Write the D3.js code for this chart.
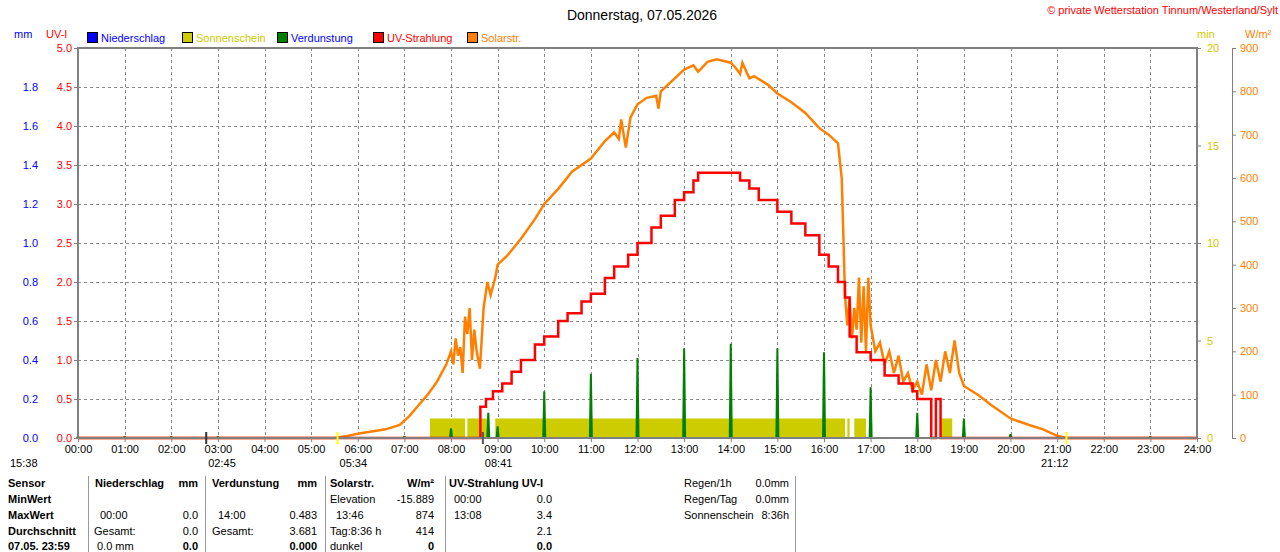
<!DOCTYPE html>
<html><head><meta charset="utf-8">
<script src="https://cdn.jsdelivr.net/npm/d3@7"></script>
<style>
body{margin:0;background:#fff;font-family:"Liberation Sans",Arial,sans-serif;}
svg text{font-size:11px;}
</style></head><body>
<svg id="chart" width="1280" height="552"></svg>
<script>
/* DATA */
const hourTicks = d3.range(0, 25);
const mmTicks = [0, 0.2, 0.4, 0.6, 0.8, 1.0, 1.2, 1.4, 1.6, 1.8];
const uvTicks = [0, 0.5, 1, 1.5, 2, 2.5, 3, 3.5, 4, 4.5, 5];
const minTicks = [0, 5, 10, 15, 20];
const wTicks = [0, 100, 200, 300, 400, 500, 600, 700, 800, 900];

// solar radiation [hour, W/m²]
const solar = [[0,0],[5.5,0],[5.8,5],[6,10],[6.3,15],[6.6,20],[6.9,30],[7.1,50],[7.3,75],[7.5,100],[7.7,130],
 [7.9,170],[8.0,200],[8.05,170],[8.1,230],[8.15,190],[8.2,210],[8.25,150],[8.3,280],[8.35,240],[8.4,300],[8.45,180],
 [8.5,250],[8.55,200],[8.62,160],[8.7,300],[8.78,360],[8.85,330],[8.95,370],[9.0,400],[9.2,420],[9.5,460],[9.8,505],
 [10.0,540],[10.3,575],[10.6,615],[11.0,645],[11.3,685],[11.5,705],[11.6,690],[11.65,735],[11.75,670],[11.85,740],
 [12.0,770],[12.2,785],[12.4,790],[12.45,760],[12.5,800],[12.8,830],[13.0,850],[13.2,860],[13.3,845],[13.5,868],
 [13.7,874],[14.0,866],[14.1,855],[14.2,840],[14.25,866],[14.4,830],[14.5,835],[14.8,815],[15.0,795],[15.3,775],
 [15.6,750],[15.9,715],[16.1,700],[16.3,680],[16.38,600],[16.42,450],[16.45,330],[16.5,260],[16.55,320],[16.6,230],
 [16.65,300],[16.7,250],[16.75,370],[16.8,220],[16.85,350],[16.9,200],[16.95,370],[17.0,260],[17.1,200],[17.2,220],
 [17.3,170],[17.4,200],[17.5,150],[17.6,190],[17.7,130],[17.8,150],[17.9,110],[18.0,130],[18.1,100],[18.2,170],
 [18.3,110],[18.4,180],[18.5,130],[18.6,200],[18.7,150],[18.8,225],[18.9,150],[19.0,120],[19.3,100],[19.6,75],
 [20.0,45],[20.4,30],[20.7,20],[21.0,5],[21.2,0],[24,0]];

// UV index steps [hour, UV-I]
const uv = [[0,0],[8.62,0],[8.63,0.4],[8.75,0.5],[8.9,0.6],[9.1,0.7],[9.3,0.85],[9.5,1.0],[9.8,1.2],[10.0,1.3],[10.3,1.5],
 [10.5,1.6],[10.8,1.75],[11.0,1.85],[11.3,2.05],[11.5,2.2],[11.8,2.35],[12.0,2.5],[12.3,2.7],[12.5,2.85],[12.8,3.05],
 [13.0,3.15],[13.2,3.3],[13.3,3.4],[14.0,3.4],[14.2,3.3],[14.4,3.2],[14.6,3.05],[15.0,2.9],[15.3,2.75],[15.6,2.6],
 [15.9,2.35],[16.1,2.2],[16.3,2.0],[16.45,1.8],[16.55,1.3],[16.7,1.1],[17.0,1.0],[17.3,0.8],[17.6,0.7],[17.9,0.6],
 [18.0,0.5],[18.2,0.5],[18.3,0],[18.4,0.5],[18.5,0],[24,0]];

// sunshine intervals [start, end] in hours
const sunshine = [[7.55,8.3],[8.35,8.8],[8.95,16.45],[16.5,16.55],[16.65,16.9],[18.5,18.75]];

// evaporation spikes [hour, mm]
const evap = [[0,0.01],[1,0.01],[2,0.01],[3,0.01],[7,0.01],[8,0.05],[8.8,0.13],[9,0.06],[10,0.24],[11,0.33],[12,0.41],
 [13,0.46],[14,0.483],[15,0.46],[16,0.44],[17,0.26],[18,0.13],[19,0.1],[20,0.02],[23,0.01]];

const markers = [[2.75,"02:45","#333"],[5.5667,"05:34","#ff0"],[8.6833,"08:41","#555"],[21.2,"21:12","#ff0"]];

/* SCALES */
const svg = d3.select("#chart");
const x0 = 78, x1 = 1197, yTop = 48, yBot = 438;
const x = d3.scaleLinear().domain([0, 24]).range([x0, x1]);
const yMm = d3.scaleLinear().domain([0, 2]).range([yBot, yTop]);
const yUv = d3.scaleLinear().domain([0, 5]).range([yBot, yTop]);
const yMin = d3.scaleLinear().domain([0, 20]).range([yBot, yTop]);
const yW = d3.scaleLinear().domain([0, 900]).range([yBot, yTop]);

/* GRID */
const grid = svg.append("g").attr("stroke", "#888").attr("stroke-dasharray", "3,3").attr("stroke-width", 1);
hourTicks.slice(1, 24).forEach(h => grid.append("line").attr("x1", Math.round(x(h)) + .5).attr("x2", Math.round(x(h)) + .5).attr("y1", yTop).attr("y2", yBot));
uvTicks.slice(1, 10).forEach(v => grid.append("line").attr("x1", x0).attr("x2", x1).attr("y1", Math.round(yUv(v)) + .5).attr("y2", Math.round(yUv(v)) + .5));

/* MARKS */
svg.append("g").selectAll("rect").data(sunshine).join("rect")
  .attr("x", d => x(d[0])).attr("width", d => x(d[1]) - x(d[0]))
  .attr("y", yMin(1)).attr("height", yBot - yMin(1)).attr("fill", "#cccc00");

svg.append("g").selectAll("path").data(evap).join("path")
  .attr("d", d => `M${x(d[0]) - 2},${yBot}L${x(d[0]) - 1},${yMm(d[1])}L${x(d[0]) + 1},${yMm(d[1])}L${x(d[0]) + 2},${yBot}Z`)
  .attr("fill", "#008000");

svg.append("path").datum(solar)
  .attr("d", d3.line().x(d => x(d[0])).y(d => yW(d[1])))
  .attr("fill", "none").attr("stroke", "#ff8000").attr("stroke-width", 2.5);

svg.append("path").datum(uv)
  .attr("d", d3.line().curve(d3.curveStepAfter).x(d => x(d[0])).y(d => yUv(d[1])))
  .attr("fill", "none").attr("stroke", "#ff0000").attr("stroke-width", 2.5);

/* FRAME + AXES */
svg.append("rect").attr("x", x0).attr("y", yTop).attr("width", x1 - x0).attr("height", yBot - yTop)
  .attr("fill", "none").attr("stroke", "#808080").attr("stroke-width", 2);

const axisStyle = (g, color) => { g.select(".domain").remove(); g.selectAll("line").attr("stroke", "#808080"); g.selectAll("text").attr("fill", color).style("font-size", "11px"); };
svg.append("g").attr("transform", `translate(${x0},0)`)
  .call(d3.axisLeft(yUv).tickValues(uvTicks).tickFormat(d3.format(".1f")).tickSize(4).tickPadding(2)).call(g => axisStyle(g, "#ff0000"));
svg.append("g").attr("transform", `translate(40,0)`)
  .call(d3.axisLeft(yMm).tickValues(mmTicks).tickFormat(d3.format(".1f")).tickSize(0).tickPadding(2)).call(g => axisStyle(g, "#0000ff"));
svg.append("g").attr("transform", `translate(${x1},0)`)
  .call(d3.axisRight(yMin).tickValues(minTicks).tickSize(4).tickPadding(6)).call(g => axisStyle(g, "#cccc00"));
svg.append("g").attr("transform", `translate(1232,0)`)
  .call(d3.axisRight(yW).tickValues(wTicks).tickSize(4).tickPadding(4)).call(g => axisStyle(g, "#ff8000"));
svg.append("line").attr("x1", 1232.5).attr("x2", 1232.5).attr("y1", yTop).attr("y2", yBot).attr("stroke", "#808080");
svg.append("g").attr("transform", `translate(0,${yBot})`)
  .call(d3.axisBottom(x).tickValues(hourTicks).tickFormat(h => d3.format("02")(h) + ":00").tickSize(4).tickPadding(3))
  .call(g => axisStyle(g, "#000"));

/* sunrise / sunset markers */
markers.forEach(([h, t, c]) => {
  svg.append("line").attr("x1", x(h)).attr("x2", x(h)).attr("y1", yBot - 6).attr("y2", yBot + 6).attr("stroke", c).attr("stroke-width", 2);
  svg.append("text").attr("x", x(h) + 2).attr("y", 467).attr("text-anchor", c === "#ff0" && h > 20 ? "end" : "start").text(t);
});
svg.append("text").attr("x", 10).attr("y", 467).text("15:38");

/* TITLES + LEGEND */
svg.append("text").attr("x", 642).attr("y", 20).attr("text-anchor", "middle").style("font-size", "14px").text("Donnerstag, 07.05.2026");
svg.append("text").attr("x", 1278).attr("y", 14).attr("text-anchor", "end").attr("fill", "#ff0000").style("font-size", "11px").text("© private Wetterstation Tinnum/Westerland/Sylt");
svg.append("text").attr("x", 14).attr("y", 38).attr("fill", "#0000ff").text("mm");
svg.append("text").attr("x", 46).attr("y", 38).attr("fill", "#ff0000").text("UV-I");
svg.append("text").attr("x", 1197).attr("y", 38).attr("fill", "#cccc00").text("min");
svg.append("text").attr("x", 1245).attr("y", 38).attr("fill", "#ff8000").text("W/m²");
const legend = [["Niederschlag", "#0000ff", "#0000ff", 87], ["Sonnenschein", "#cccc00", "#cccc00", 182], ["Verdunstung", "#008000", "#0000ff", 277],
  ["UV-Strahlung", "#ff0000", "#ff0000", 373], ["Solarstr.", "#ff8000", "#ff8000", 467]];
legend.forEach(([t, c, tc, lx]) => {
  svg.append("rect").attr("x", lx + .5).attr("y", 32.5).attr("width", 10).attr("height", 10).attr("fill", c).attr("stroke", "#000");
  svg.append("text").attr("x", lx + 14).attr("y", 42).attr("fill", tc).text(t);
});

/* TABLE */
const tbl = svg.append("g");
[88, 205, 325, 445, 795].forEach(sx => tbl.append("line").attr("x1", sx + .5).attr("x2", sx + .5).attr("y1", 476).attr("y2", 552).attr("stroke", "#999"));
const rows = [487, 503, 519, 535, 550];
const cells = [
  [8, 0, "Sensor", "start", true], [8, 1, "MinWert", "start", true], [8, 2, "MaxWert", "start", true], [8, 3, "Durchschnitt", "start", true], [8, 4, "07.05. 23:59", "start", true],
  [95, 0, "Niederschlag", "start", true], [198, 0, "mm", "end", true], [100, 2, "00:00", "start"], [198, 2, "0.0", "end"], [94, 3, "Gesamt:", "start"], [198, 3, "0.0", "end"], [97, 4, "0.0 mm", "start"], [198, 4, "0.0", "end", true],
  [212, 0, "Verdunstung", "start", true], [317, 0, "mm", "end", true], [218, 2, "14:00", "start"], [317, 2, "0.483", "end"], [212, 3, "Gesamt:", "start"], [317, 3, "3.681", "end"], [317, 4, "0.000", "end", true],
  [330, 0, "Solarstr.", "start", true], [434, 0, "W/m²", "end", true], [330, 1, "Elevation", "start"], [434, 1, "-15.889", "end"], [336, 2, "13:46", "start"], [434, 2, "874", "end"], [330, 3, "Tag:8:36 h", "start"], [434, 3, "414", "end"], [330, 4, "dunkel", "start"], [434, 4, "0", "end", true],
  [449, 0, "UV-Strahlung UV-I", "start", true], [552, 1, "0.0", "end"], [454, 1, "00:00", "start"], [454, 2, "13:08", "start"], [552, 2, "3.4", "end"], [552, 3, "2.1", "end"], [552, 4, "0.0", "end", true],
  [684, 0, "Regen/1h", "start"], [789, 0, "0.0mm", "end"], [684, 1, "Regen/Tag", "start"], [789, 1, "0.0mm", "end"], [684, 2, "Sonnenschein", "start"], [789, 2, "8:36h", "end"]
];
cells.forEach(([cx, r, t, a, b]) => tbl.append("text").attr("x", cx).attr("y", rows[r]).attr("text-anchor", a)
  .style("font-weight", b ? "bold" : "normal").text(t));
</script>
</body></html>
